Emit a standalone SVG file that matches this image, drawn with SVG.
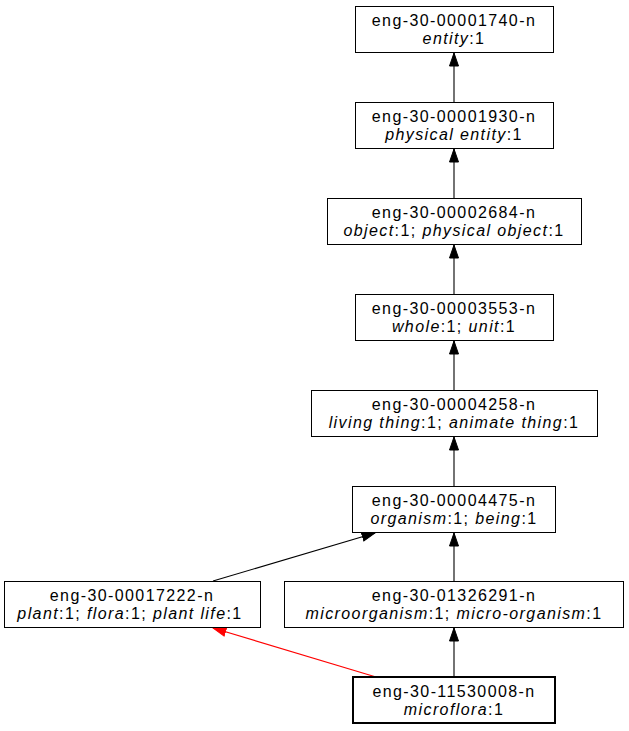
<svg xmlns="http://www.w3.org/2000/svg" width="629" height="731" viewBox="0 0 629 731">
<style>
.box{fill:#fff;stroke:#000;stroke-width:1}
.bold{stroke-width:2}
text{font-family:"Liberation Sans",Arial,sans-serif;font-size:16px;fill:#000;text-anchor:middle;letter-spacing:1.4px}
.i{font-style:italic}
.e{stroke:#000;stroke-width:1.1;fill:none}
.r{stroke:#ff0000;stroke-width:1.1;fill:none}
</style>
<defs>
<marker id="ab" markerUnits="userSpaceOnUse" markerWidth="15" markerHeight="11" refX="13.5" refY="5.5" orient="auto"><path d="M0.5,1 L13.5,5.5 L0.5,10 Z" fill="#000" stroke="#000"/></marker>
<marker id="ar" markerUnits="userSpaceOnUse" markerWidth="15" markerHeight="11" refX="13.5" refY="5.5" orient="auto"><path d="M0.5,1 L13.5,5.5 L0.5,10 Z" fill="#ff0000" stroke="#ff0000"/></marker>
</defs>
<g id="connectors">
<line class="e" x1="454" y1="102" x2="454" y2="53" marker-end="url(#ab)"/>
<line class="e" x1="454" y1="198" x2="454" y2="149" marker-end="url(#ab)"/>
<line class="e" x1="454" y1="294" x2="454" y2="245" marker-end="url(#ab)"/>
<line class="e" x1="454" y1="390" x2="454" y2="341" marker-end="url(#ab)"/>
<line class="e" x1="454" y1="486" x2="454" y2="437" marker-end="url(#ab)"/>
<line class="e" x1="213" y1="581" x2="375" y2="533" marker-end="url(#ab)"/>
<line class="e" x1="454" y1="581" x2="454" y2="533" marker-end="url(#ab)"/>
<line class="e" x1="454" y1="677" x2="454" y2="628" marker-end="url(#ab)"/>
<line class="r" x1="376" y1="677" x2="213" y2="628" marker-end="url(#ar)"/>
</g>
<g id="n1"><rect class="box" x="355.5" y="6.5" width="198" height="46"/><text x="454" y="26">eng-30-00001740-n</text><text x="454" y="44"><tspan class="i">entity</tspan>:1</text></g>
<g id="n2"><rect class="box" x="355.5" y="102.5" width="198" height="46"/><text x="454" y="122">eng-30-00001930-n</text><text x="454" y="140"><tspan class="i">physical entity</tspan>:1</text></g>
<g id="n3"><rect class="box" x="327.5" y="198.5" width="254" height="46"/><text x="454" y="218">eng-30-00002684-n</text><text x="454" y="236"><tspan class="i">object</tspan>:1; <tspan class="i">physical object</tspan>:1</text></g>
<g id="n4"><rect class="box" x="355.5" y="294.5" width="198" height="46"/><text x="454" y="314">eng-30-00003553-n</text><text x="454" y="332"><tspan class="i">whole</tspan>:1; <tspan class="i">unit</tspan>:1</text></g>
<g id="n5"><rect class="box" x="311.5" y="390.5" width="286" height="46"/><text x="454" y="410">eng-30-00004258-n</text><text x="454" y="428"><tspan class="i">living thing</tspan>:1; <tspan class="i">animate thing</tspan>:1</text></g>
<g id="n6"><rect class="box" x="352.5" y="486.5" width="203" height="46"/><text x="454" y="506">eng-30-00004475-n</text><text x="454" y="524"><tspan class="i">organism</tspan>:1; <tspan class="i">being</tspan>:1</text></g>
<g id="n7"><rect class="box" x="4.5" y="581.5" width="256" height="46"/><text x="132" y="601">eng-30-00017222-n</text><text x="130" y="619"><tspan class="i">plant</tspan>:1; <tspan class="i">flora</tspan>:1; <tspan class="i">plant life</tspan>:1</text></g>
<g id="n8"><rect class="box" x="284.5" y="581.5" width="339" height="46"/><text x="454" y="601">eng-30-01326291-n</text><text x="454" y="619"><tspan class="i">microorganism</tspan>:1; <tspan class="i">micro-organism</tspan>:1</text></g>
<g id="n9"><rect class="box bold" x="353" y="677" width="202" height="46"/><text x="454" y="697">eng-30-11530008-n</text><text x="454" y="715"><tspan class="i">microflora</tspan>:1</text></g>
</svg>
